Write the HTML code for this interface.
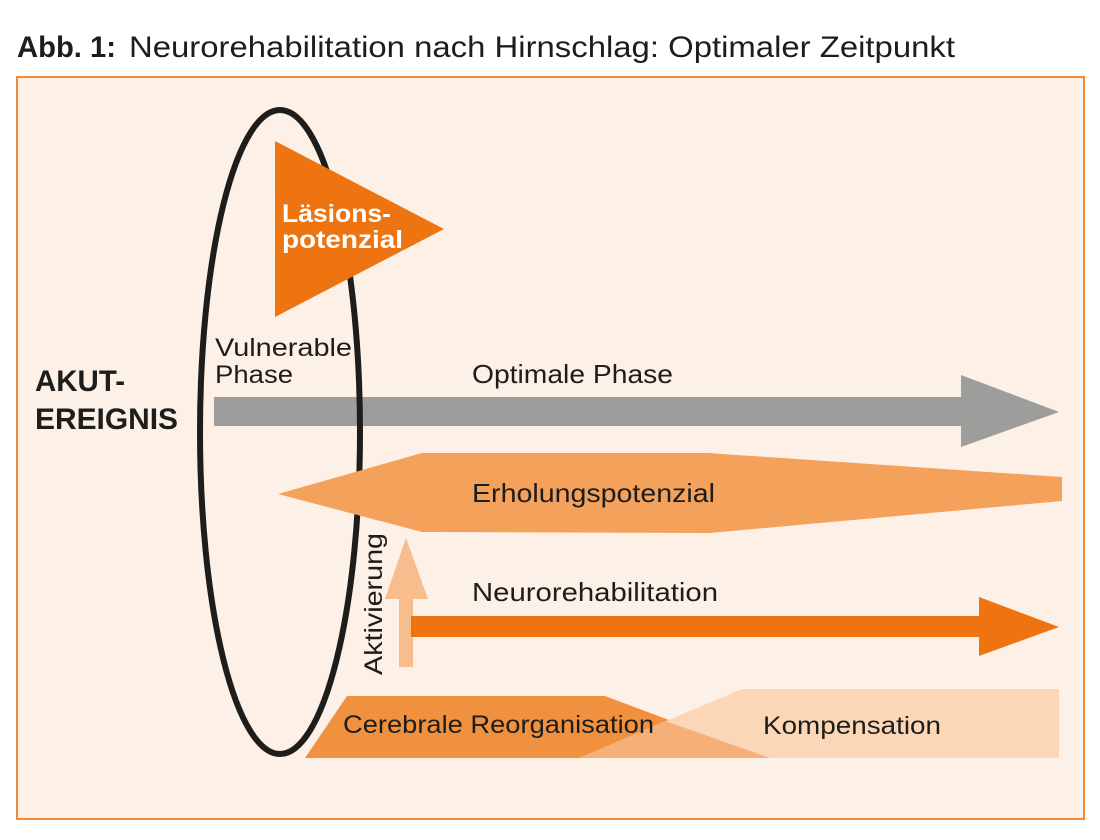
<!DOCTYPE html>
<html>
<head>
<meta charset="utf-8">
<style>
html,body{margin:0;padding:0;background:#ffffff;}
svg{display:block;}
text{font-family:"Liberation Sans",Arial,sans-serif;fill:#1d1d1b;}
</style>
</head>
<body>
<svg width="1100" height="840" viewBox="0 0 1100 840" xmlns="http://www.w3.org/2000/svg">
  <rect x="0" y="0" width="1100" height="840" fill="#ffffff"/>
  <!-- Title -->
  <text x="17" y="57" font-size="30" font-weight="bold" textLength="99" lengthAdjust="spacingAndGlyphs">Abb. 1:</text>
  <text x="129" y="57" font-size="30" textLength="826" lengthAdjust="spacingAndGlyphs">Neurorehabilitation nach Hirnschlag: Optimaler Zeitpunkt</text>

  <!-- Frame -->
  <rect x="17" y="77" width="1067" height="742" fill="#fdf0e6" stroke="#f08a36" stroke-width="2"/>

  <!-- Gray arrow (Optimale Phase) -->
  <polygon points="214,397 961,397 961,375 1059,412 961,447 961,426 214,426" fill="#9d9d9c"/>

  <!-- Ellipse -->
  <ellipse cx="280" cy="432" rx="80" ry="322" fill="none" stroke="#1d1d1b" stroke-width="6"/>

  <!-- Läsionspotenzial triangle -->
  <polygon points="275,141 444,229 275,317" fill="#ed7410"/>
  <text x="282" y="222" font-size="25" font-weight="bold" style="fill:#ffffff" textLength="109" lengthAdjust="spacingAndGlyphs">Läsions-</text>
  <text x="282" y="248" font-size="25" font-weight="bold" style="fill:#ffffff" textLength="121" lengthAdjust="spacingAndGlyphs">potenzial</text>

  <!-- AKUT-EREIGNIS -->
  <text x="35" y="391" font-size="30" font-weight="bold" textLength="90" lengthAdjust="spacingAndGlyphs">AKUT-</text>
  <text x="35" y="429" font-size="30" font-weight="bold" textLength="143" lengthAdjust="spacingAndGlyphs">EREIGNIS</text>

  <!-- Vulnerable Phase -->
  <text x="215" y="356" font-size="25" textLength="137" lengthAdjust="spacingAndGlyphs">Vulnerable</text>
  <text x="215" y="383" font-size="25" textLength="78" lengthAdjust="spacingAndGlyphs">Phase</text>

  <!-- Optimale Phase -->
  <text x="472" y="383" font-size="26" textLength="201" lengthAdjust="spacingAndGlyphs">Optimale Phase</text>

  <!-- Erholungspotenzial -->
  <polygon points="278,494 422,453 708,453 1062,477 1062,501 710,533 422,532" fill="#f4a15b"/>
  <text x="472" y="502" font-size="26" textLength="243" lengthAdjust="spacingAndGlyphs">Erholungspotenzial</text>

  <!-- Aktivierung arrow -->
  <polygon points="399,667 399,599 385,599 406,538 428,599 413,599 413,667" fill="#f8bd8c"/>
  <text transform="translate(382,675) rotate(-90)" x="0" y="0" font-size="25" textLength="142" lengthAdjust="spacingAndGlyphs">Aktivierung</text>

  <!-- Neurorehabilitation arrow -->
  <polygon points="411,616 979,616 979,597 1059,627 979,656 979,637 411,637" fill="#ed7410"/>
  <text x="472" y="601" font-size="26" textLength="246" lengthAdjust="spacingAndGlyphs">Neurorehabilitation</text>

  <!-- Cerebrale Reorganisation / Kompensation -->
  <polygon points="305,758 347,696 605,696 770,758" fill="#f0913f"/>
  <polygon points="742,689 1059,689 1059,758 579,758" fill="#fbd7b7"/>
  <polygon points="579,758 665,721 770,758" fill="#f5b07a"/>
  <text x="343" y="733" font-size="25" textLength="311" lengthAdjust="spacingAndGlyphs">Cerebrale Reorganisation</text>
  <text x="763" y="734" font-size="25" textLength="178" lengthAdjust="spacingAndGlyphs">Kompensation</text>
</svg>
</body>
</html>
